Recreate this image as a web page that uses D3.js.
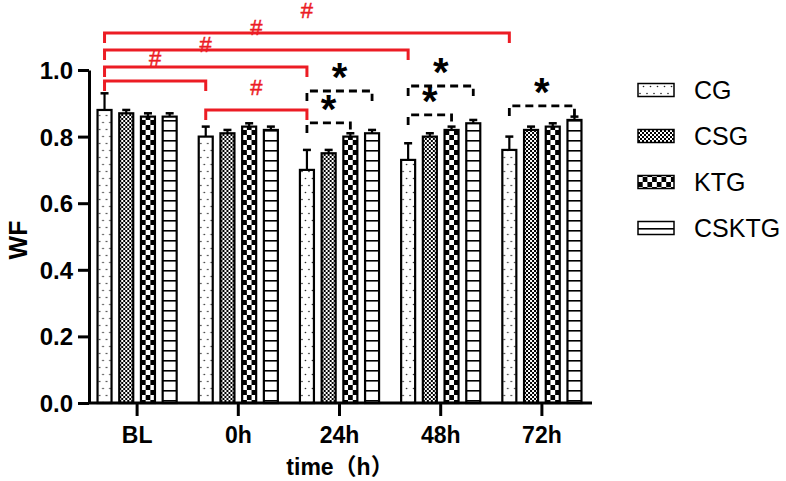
<!DOCTYPE html>
<html><head><meta charset="utf-8">
<script src="https://cdn.jsdelivr.net/npm/d3@7"></script>
<style>body{margin:0;background:#fff}svg{display:block}</style>
</head><body>
<svg id="c" width="786" height="481"></svg>
<script>
const categories = ["BL", "0h", "24h", "48h", "72h"];
const seriesNames = ["CG", "CSG", "KTG", "CSKTG"];
const meanCG    = [0.88, 0.80, 0.70, 0.73, 0.76];
const meanCSG   = [0.87, 0.81, 0.75, 0.80, 0.82];
const meanKTG   = [0.86, 0.83, 0.80, 0.82, 0.83];
const meanCSKTG = [0.86, 0.82, 0.81, 0.84, 0.85];
const errCG    = [0.05, 0.03, 0.06, 0.05, 0.04];
const errCSG   = [0.01, 0.01, 0.01, 0.01, 0.01];
const errKTG   = [0.01, 0.01, 0.01, 0.01, 0.01];
const errCSKTG = [0.01, 0.01, 0.01, 0.01, 0.01];
const yTicks = [0, 0.2, 0.4, 0.6, 0.8, 1.0];
// significance brackets: [fromCategory, fromSeries, toCategory, toSeries, level (WF units), label]
const hashBrackets = [
  ["BL", "CG", "72h", "CG", 1.111, "#"],
  ["BL", "CG", "48h", "CG", 1.060, "#"],
  ["BL", "CG", "24h", "CG", 1.009, "#"],
  ["BL", "CG", "0h",  "CG", 0.967, "#"],
  ["0h", "CG", "24h", "CG", 0.880, "#"]
];
const starBrackets = [
  ["24h", "CG", "24h", "KTG",   0.841, "*"],
  ["24h", "CG", "24h", "CSKTG", 0.937, "*"],
  ["48h", "CG", "48h", "KTG",   0.865, "*"],
  ["48h", "CG", "48h", "CSKTG", 0.952, "*"],
  ["72h", "CG", "72h", "CSKTG", 0.892, "*"]
];

const means = [meanCG, meanCSG, meanKTG, meanCSKTG];
const errs = [errCG, errCSG, errKTG, errCSKTG];
const bars = [];
seriesNames.forEach((s, si) => categories.forEach((c, ci) => bars.push({s, c, v: means[si][ci], e: errs[si][ci]})));

const svg = d3.select("#c");
const FONT = "'Liberation Sans', Arial, 'Noto Sans CJK SC', sans-serif";
const RED = "#ec1c24";

const y = d3.scaleLinear().domain([0, 1]).range([403, 70]);
const x0 = d3.scaleBand().domain(categories).range([86.5, 592.5]).paddingInner(0.218).paddingOuter(0.109);
const x1 = d3.scaleBand().domain(seriesNames).range([0, x0.bandwidth()]).paddingInner(0.355).paddingOuter(0);

// patterns
const defs = svg.append("defs");
const pCG = defs.append("pattern").attr("id", "pCG").attr("patternUnits", "userSpaceOnUse").attr("width", 7).attr("height", 14);
pCG.append("rect").attr("width", 7).attr("height", 14).attr("fill", "#fff");
pCG.append("circle").attr("cx", 2).attr("cy", 3.5).attr("r", 0.8).attr("fill", "#222");
pCG.append("circle").attr("cx", 5.5).attr("cy", 10.5).attr("r", 0.8).attr("fill", "#222");
const pCSG = defs.append("pattern").attr("id", "pCSG").attr("patternUnits", "userSpaceOnUse").attr("width", 4).attr("height", 4);
pCSG.append("rect").attr("width", 4).attr("height", 4).attr("fill", "#fff");
pCSG.append("rect").attr("width", 2).attr("height", 2).attr("fill", "#000");
pCSG.append("rect").attr("x", 2).attr("y", 2).attr("width", 2).attr("height", 2).attr("fill", "#000");
const pKTG = defs.append("pattern").attr("id", "pKTG").attr("patternUnits", "userSpaceOnUse").attr("width", 9.4).attr("height", 10);
pKTG.append("rect").attr("width", 9.4).attr("height", 10).attr("fill", "#fff");
pKTG.append("rect").attr("x", 0).attr("y", 0).attr("width", 4.7).attr("height", 5).attr("fill", "#000");
pKTG.append("rect").attr("x", 4.7).attr("y", 5).attr("width", 4.7).attr("height", 5).attr("fill", "#000");
const pCSKTG = defs.append("pattern").attr("id", "pCSKTG").attr("patternUnits", "userSpaceOnUse").attr("width", 20).attr("height", 10);
pCSKTG.append("rect").attr("width", 20).attr("height", 10).attr("fill", "#fff");
pCSKTG.append("line").attr("x1", 0).attr("x2", 20).attr("y1", 0.8).attr("y2", 0.8).attr("stroke", "#000").attr("stroke-width", 1.6);
const fillOf = {CG: "url(#pCG)", CSG: "url(#pCSG)", KTG: "url(#pKTG)", CSKTG: "url(#pCSKTG)"};

const cx = (c, s) => x0(c) + x1(s) + x1.bandwidth() / 2;

// bars
const bg = svg.append("g").selectAll("g").data(bars).join("g")
  .attr("transform", d => `translate(${x0(d.c) + x1(d.s)},0)`);
bg.append("rect")
  .attr("x", 0).attr("width", x1.bandwidth())
  .attr("y", d => y(d.v)).attr("height", d => y(0) - y(d.v))
  .attr("fill", d => fillOf[d.s]).attr("stroke", "#000").attr("stroke-width", 2.2);
// error bars (upper only)
bg.append("line")
  .attr("x1", x1.bandwidth() / 2).attr("x2", x1.bandwidth() / 2)
  .attr("y1", d => y(d.v)).attr("y2", d => y(d.v + d.e))
  .attr("stroke", "#000").attr("stroke-width", 2.2);
bg.append("line")
  .attr("x1", x1.bandwidth() / 2 - 4).attr("x2", x1.bandwidth() / 2 + 4)
  .attr("y1", d => y(d.v + d.e)).attr("y2", d => y(d.v + d.e))
  .attr("stroke", "#000").attr("stroke-width", 2.5);

// axes
const yAxis = svg.append("g").attr("transform", "translate(89,0)")
  .call(d3.axisLeft(y).tickValues(yTicks).tickFormat(d3.format(".1f")).tickSize(11).tickSizeOuter(0));
yAxis.select(".domain").attr("stroke-width", 3);
yAxis.selectAll(".tick line").attr("stroke-width", 3);
yAxis.selectAll(".tick text").attr("font-family", FONT).attr("font-size", 24).attr("font-weight", "bold").attr("fill", "#000").attr("x", -16).attr("dy", "0.35em");

const xAxis = svg.append("g").attr("transform", "translate(0,403)")
  .call(d3.axisBottom(x0).tickSize(13).tickSizeOuter(0));
xAxis.select(".domain").remove();
xAxis.append("line").attr("x1", 89).attr("x2", 592).attr("stroke", "#000").attr("stroke-width", 3);
xAxis.selectAll(".tick line").attr("stroke-width", 3);
xAxis.selectAll(".tick text").attr("font-family", FONT).attr("font-size", 23).attr("font-weight", "bold").attr("fill", "#000").attr("y", 24).attr("dy", "0.71em");

svg.append("text").attr("x", 340).attr("y", 475).attr("text-anchor", "middle")
  .attr("font-family", FONT).attr("font-size", 23).attr("font-weight", "bold").text("time（h）");
svg.append("text").attr("transform", "translate(27,240) rotate(-90)").attr("text-anchor", "middle")
  .attr("font-family", FONT).attr("font-size", 25).attr("font-weight", "bold").text("WF");

// brackets
function drawBracket(b, color, dashed, fs, fw, labelOff, sw) {
  const xa = cx(b[0], b[1]), xb = cx(b[2], b[3]), yy = y(b[4]);
  svg.append("path").attr("d", `M${xa},${yy + 10}V${yy}H${xb}V${yy + 10}`)
    .attr("fill", "none").attr("stroke", color).attr("stroke-width", sw)
    .attr("stroke-dasharray", dashed ? "8,5" : null);
  svg.append("text").attr("x", (xa + xb) / 2).attr("y", yy - labelOff).attr("text-anchor", "middle")
    .attr("font-family", FONT).attr("font-size", fs).attr("font-weight", fw).attr("fill", color)
    .attr("stroke", color).attr("stroke-width", dashed ? 0 : 0.5).text(b[5]);
}
hashBrackets.forEach(b => drawBracket(b, RED, false, 22, "normal", 15, 3));
starBrackets.forEach(b => drawBracket(b, "#000", true, 40, "bold", 0, 2.8));

// legend
const lg = svg.append("g").selectAll("g").data(seriesNames).join("g")
  .attr("transform", (d, i) => `translate(638,${90 + i * 46})`);
lg.append("rect").attr("x", 0).attr("y", -6.5).attr("width", 36).attr("height", 13)
  .attr("fill", d => fillOf[d]).attr("stroke", "#000").attr("stroke-width", 1.5);
lg.append("text").attr("x", 56).attr("y", 0).attr("dy", "0.36em")
  .attr("font-family", FONT).attr("font-size", 25).text(d => d);
</script>
</body></html>
